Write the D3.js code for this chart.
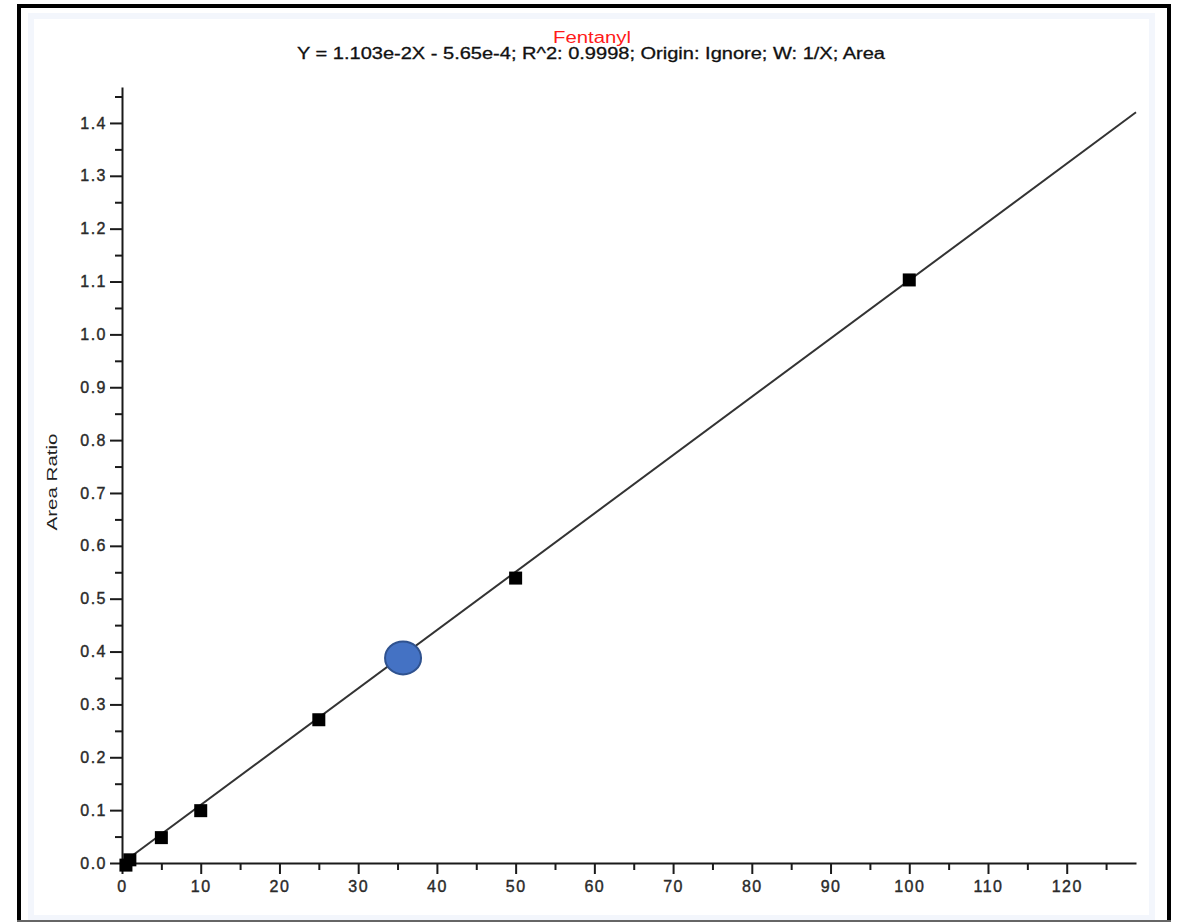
<!DOCTYPE html>
<html>
<head>
<meta charset="utf-8">
<script src="https://cdn.jsdelivr.net/npm/d3@7"></script>
<style>
  body { margin: 0; background: #fff; }
  text { font-family: "Liberation Sans", Arial, sans-serif; }
</style>
</head>
<body>
<div class="chart"></div>
<script>
// calibration standards (concentration vs area ratio)
var calX = [0.5, 1, 5, 10, 25, 50, 100];
var calY = [-0.004, 0.006, 0.048, 0.099, 0.271, 0.539, 1.103];
// unknown sample marked on the curve
var sampleX = [35.7];
var sampleY = [0.388];
// regression: Y = slope*X + intercept
var slope = 0.01103, intercept = -0.000565;
var xTicks = [0, 10, 20, 30, 40, 50, 60, 70, 80, 90, 100, 110, 120];
var xMinor = [5, 15, 25, 35, 45, 55, 65, 75, 85, 95, 105, 115, 125];
var yTicks = [0, 0.1, 0.2, 0.3, 0.4, 0.5, 0.6, 0.7, 0.8, 0.9, 1.0, 1.1, 1.2, 1.3, 1.4];
var yMinor = [0.05, 0.15, 0.25, 0.35, 0.45, 0.55, 0.65, 0.75, 0.85, 0.95, 1.05, 1.15, 1.25, 1.35, 1.45];
var chartTitle = "Fentanyl";
var chartSubtitle = "Y = 1.103e-2X - 5.65e-4; R^2: 0.9998; Origin: Ignore; W: 1/X; Area";
var yLabel = "Area Ratio";

var W = 1178, H = 924;
var svg = d3.select(".chart").append("svg")
  .attr("width", W).attr("height", H);

// frame
svg.append("rect").attr("x", 31).attr("y", 16).attr("width", 1121).attr("height", 902)
  .attr("fill", "none").attr("stroke", "#f3f6fc").attr("stroke-width", 6);
svg.append("path").attr("d", "M19,921 L19,6 L1169,6 L1169,921")
  .attr("fill", "none").attr("stroke", "#000").attr("stroke-width", 4);
svg.append("line").attr("x1", 17).attr("x2", 1171).attr("y1", 921).attr("y2", 921)
  .attr("stroke", "#666").attr("stroke-width", 2);

var x = d3.scaleLinear().domain([0, 128.8]).range([122, 1136]);
var y = d3.scaleLinear().domain([0, 1.468]).range([863, 87]);

// titles
svg.append("text").attr("x", 592).attr("y", 43).attr("text-anchor", "middle")
  .attr("fill", "#ff1a1a").style("font-size", "16px")
  .attr("textLength", 78).attr("lengthAdjust", "spacingAndGlyphs")
  .text(chartTitle);
svg.append("text").attr("x", 591).attr("y", 59).attr("text-anchor", "middle")
  .attr("fill", "#111").attr("stroke", "#111").attr("stroke-width", 0.3)
  .style("font-size", "16px")
  .attr("textLength", 588).attr("lengthAdjust", "spacingAndGlyphs")
  .text(chartSubtitle);

svg.append("text")
  .attr("transform", "translate(57,482) rotate(-90)")
  .attr("text-anchor", "middle").attr("fill", "#222").style("font-size", "14px")
  .attr("textLength", 97).attr("lengthAdjust", "spacingAndGlyphs")
  .text(yLabel);

// axes
svg.append("g").attr("transform", "translate(0," + y(0) + ")")
  .call(d3.axisBottom(x).tickValues(xTicks).tickFormat(d3.format("d"))
    .tickSize(11).tickPadding(7).tickSizeOuter(0));
svg.append("g").attr("transform", "translate(0," + y(0) + ")")
  .call(d3.axisBottom(x).tickValues(xMinor).tickFormat("").tickSize(7).tickSizeOuter(0))
  .select(".domain").remove();

svg.append("g").attr("transform", "translate(" + x(0) + ",0)")
  .call(d3.axisLeft(y).tickValues(yTicks).tickFormat(d3.format(".1f"))
    .tickSize(12).tickPadding(3).tickSizeOuter(0));
svg.append("g").attr("transform", "translate(" + x(0) + ",0)")
  .call(d3.axisLeft(y).tickValues(yMinor).tickFormat("").tickSize(7).tickSizeOuter(0))
  .select(".domain").remove();

svg.selectAll(".domain").attr("stroke", "#1a1a1a").attr("stroke-width", 2);
svg.selectAll(".tick line").attr("stroke", "#1a1a1a").attr("stroke-width", 2);
svg.selectAll(".tick text").attr("fill", "#2a2a2a")
  .attr("stroke", "#2a2a2a").attr("stroke-width", 0.4)
  .style("font-size", "16px").style("letter-spacing", "1.5px");

// regression line
var fit = [0, 128.8].map(function(v) { return [v, slope * v + intercept]; });
svg.append("path").datum(fit)
  .attr("fill", "none").attr("stroke", "#333").attr("stroke-width", 2)
  .attr("d", d3.line().x(function(d) { return x(d[0]); }).y(function(d) { return y(d[1]); }));

// standards
var pts = calX.map(function(v, i) { return {x: v, y: calY[i]}; });
var sz = 13;
svg.selectAll(".pt").data(pts).enter().append("rect")
  .attr("class", "pt")
  .attr("x", function(d) { return x(d.x) - sz / 2; })
  .attr("y", function(d) { return y(d.y) - sz / 2; })
  .attr("width", sz).attr("height", sz)
  .attr("fill", "#000");

// sample
var smp = sampleX.map(function(v, i) { return {x: v, y: sampleY[i]}; });
svg.selectAll(".smp").data(smp).enter().append("ellipse")
  .attr("cx", function(d) { return x(d.x); })
  .attr("cy", function(d) { return y(d.y); })
  .attr("rx", 18).attr("ry", 16.5)
  .attr("fill", "#4472c4").attr("stroke", "#2f528f").attr("stroke-width", 2);
</script>
</body>
</html>
